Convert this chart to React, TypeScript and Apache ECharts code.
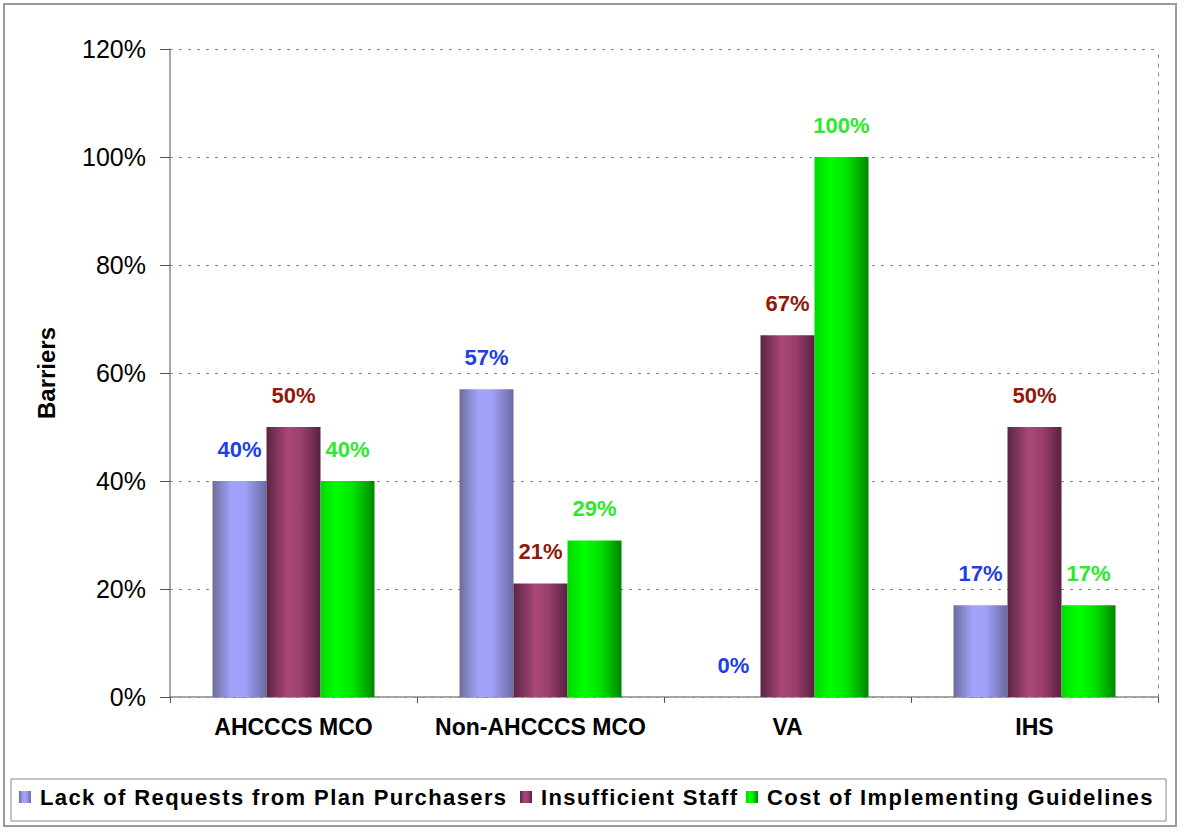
import React, { useEffect, useRef } from "react";
import * as echarts from "echarts";

const categories = ["AHCCCS MCO", "Non-AHCCCS MCO", "VA", "IHS"];
const seriesNames = [
  "Lack of Requests from Plan Purchasers",
  "Insufficient Staff",
  "Cost of Implementing Guidelines",
];
const lackOfRequests = [40, 57, 0, 17];
const insufficientStaff = [50, 21, 67, 50];
const costOfImplementing = [40, 29, 100, 17];
const yTicks = { min: 0, max: 120, interval: 20 };

const FONT = "Arial, 'Liberation Sans', Helvetica, sans-serif";
const LEGEND_FONT = "LegendSpaced, Arial, 'Liberation Sans', Helvetica, sans-serif";

function grad(stops: [number, string][]) {
  return new echarts.graphic.LinearGradient(
    0,
    0,
    1,
    0,
    stops.map(([offset, color]) => ({ offset, color }))
  );
}

export default function App() {
  const ref = useRef<HTMLDivElement>(null);
  useEffect(() => {
    if (!ref.current) return;
    const chart = echarts.init(ref.current, null, { renderer: "svg" });
    const gridLine = { color: "#8a8a8a", type: [3, 6] as any, width: 1 };
    const mk = (
      name: string,
      data: number[],
      fill: any,
      labelColor: string
    ) => ({
      name,
      type: "bar",
      data,
      barWidth: 54,
      barGap: "0%",
      itemStyle: { color: fill },
      label: {
        show: true,
        position: "top",
        distance: 21,
        formatter: "{c}%",
        color: labelColor,
        fontFamily: FONT,
        fontWeight: "bold",
        fontSize: 22,
      },
    });
    const legendLefts = [19, 520, 746];
    const legends = seriesNames.map((n, i) => ({
      data: [n],
      top: 786,
      left: legendLefts[i],
      padding: 0,
      itemWidth: 12,
      itemHeight: 12,
      icon: "rect",
      textStyle: {
        color: "#000",
        fontFamily: LEGEND_FONT,
        fontWeight: "bold",
        fontSize: 22,
        padding: [0, 0, 0, 4],
      },
    }));
    chart.setOption({
      animation: false,
      backgroundColor: "#ffffff",
      grid: { left: 170, right: 42, top: 49, bottom: 139, containLabel: false },
      xAxis: {
        type: "category",
        data: categories,
        axisLine: { show: true, lineStyle: { color: "#8a8a8a", width: 1.5 } },
        axisTick: { show: true, length: 6, lineStyle: { color: "#555" } },
        axisLabel: {
          interval: 0,
          color: "#000",
          fontFamily: FONT,
          fontWeight: "bold",
          fontSize: 23,
          margin: 18,
        },
        splitLine: { show: false },
      },
      yAxis: [
        {
          type: "value",
          min: yTicks.min,
          max: yTicks.max,
          interval: yTicks.interval,
          name: "Barriers",
          nameLocation: "middle",
          nameRotate: 90,
          nameGap: 112,
          nameTextStyle: {
            color: "#000",
            fontFamily: FONT,
            fontWeight: "bold",
            fontSize: 24,
          },
          axisLine: { show: true, lineStyle: { color: "#8a8a8a", width: 1.5 } },
          axisTick: {
            show: true,
            inside: false,
            length: 10,
            lineStyle: { color: "#555" },
          },
          axisLabel: {
            color: "#000",
            fontFamily: FONT,
            fontSize: 25,
            margin: 24,
            formatter: "{value}%",
          },
          splitLine: { show: true, lineStyle: gridLine },
        },
        {
          type: "value",
          position: "right",
          min: yTicks.min,
          max: yTicks.max,
          interval: yTicks.interval,
          axisLine: { show: true, lineStyle: gridLine },
          axisTick: { show: false },
          axisLabel: { show: false },
          splitLine: { show: false },
        },
      ],
      legend: legends,
      graphic: [
        {
          type: "rect",
          shape: { x: 4, y: 4, width: 1172, height: 822 },
          style: { fill: "none", stroke: "#999", lineWidth: 2 },
          silent: true,
          z: -1,
        },
        {
          type: "rect",
          shape: { x: 11, y: 779, width: 1155, height: 42 },
          style: { fill: "none", stroke: "#888", lineWidth: 1 },
          silent: true,
        },
      ],
      series: [
        mk(
          seriesNames[0],
          lackOfRequests,
          grad([
            [0, "#6c6c9c"],
            [0.35, "#a3a3fc"],
            [0.6, "#a0a0f8"],
            [1, "#6a6aa2"],
          ]),
          "#1f3fe6"
        ),
        mk(
          seriesNames[1],
          insufficientStaff,
          grad([
            [0, "#5a2545"],
            [0.4, "#aa4878"],
            [0.65, "#9a3e6c"],
            [1, "#592040"],
          ]),
          "#8f1a0c"
        ),
        mk(
          seriesNames[2],
          costOfImplementing,
          grad([
            [0, "#00d800"],
            [0.3, "#00ff00"],
            [0.6, "#00e400"],
            [1, "#008600"],
          ]),
          "#2ee82e"
        ),
      ],
    });
    return () => chart.dispose();
  }, []);
  return (
    <>
      <style>{`text[style*="LegendSpaced"], text[font-family*="LegendSpaced"] { letter-spacing: 1.4px; }`}</style>
      <div
        ref={ref}
        style={{
          position: "fixed",
          left: 0,
          top: 0,
          width: 1200,
          height: 836,
        }}
      />
    </>
  );
}
